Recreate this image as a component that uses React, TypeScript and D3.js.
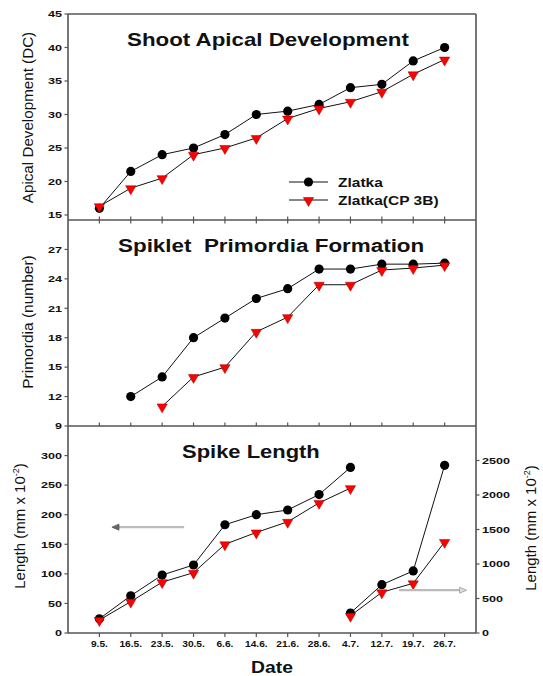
import * as d3 from "d3";

const dates = ["9.5.", "16.5.", "23.5.", "30.5.", "6.6.", "14.6.", "21.6.", "28.6.", "4.7.", "12.7.", "19.7.", "26.7."];

// panel 1 - shoot apical development (DC)
const apicalZlatka = [16, 21.5, 24, 25, 27, 30, 30.5, 31.5, 34, 34.5, 38, 40];
const apicalCP = [16.3, 19, 20.5, 24, 25, 26.5, 29.4, 30.9, 31.9, 33.4, 36, 38.2];

// panel 2 - spiklet primordia (number)
const primZlatka = [null, 12, 14, 18, 20, 22, 23, 25, 25, 25.5, 25.5, 25.6];
const primCP = [null, null, 11, 14, 15, 18.6, 20.1, 23.4, 23.4, 24.9, 25.1, 25.4];

// panel 3 - spike length, left axis (9.5. - 4.7.)
const spikeZlatka = [24, 63, 98, 115, 183, 200, 208, 234, 280];
const spikeCP = [22, 53, 86, 102, 150, 170, 188, 220, 245];
// panel 3 - spike length, right axis (4.7. - 26.7.)
const spikeZlatkaLate = [290, 700, 900, 2430];
const spikeCPLate = [250, 590, 720, 1320];

const apicalTicks = [15, 20, 25, 30, 35, 40, 45];
const primTicks = [9, 12, 15, 18, 21, 24, 27];
const spikeTicks = [0, 50, 100, 150, 200, 250, 300];
const spikeRightTicks = [0, 500, 1000, 1500, 2000, 2500];

const W = 543;
const H = 676;
const L = 68;
const R = 476;
const FONT = "Arial, 'Liberation Sans', sans-serif";
const frame = "#555";

const x = d3.scaleLinear().domain([-1, 12]).range([L, R]);
const y1 = d3.scaleLinear().domain([14.25, 45]).range([220, 14]);
const y2 = d3.scaleLinear().domain([9, 30]).range([426, 220]);
const y3 = d3.scaleLinear().domain([0, 350]).range([633, 426]);
const y3r = d3.scaleLinear().domain([0, 3000]).range([633, 426]);

const tri = d3.symbol().type(d3.symbolTriangle).size(46)();

type Pt = [number, number];

function pts(vals: (number | null)[], y: d3.ScaleLinear<number, number>, offset = 0): Pt[] {
  return vals
    .map((v, i) => (v == null ? null : ([x(i + offset), y(v)] as Pt)))
    .filter((p): p is Pt => p != null);
}

const line = d3.line<Pt>();

function Series({ data, kind }: { data: Pt[]; kind: "circle" | "tri" }) {
  return (
    <g>
      <path d={line(data) || ""} fill="none" stroke="#111" strokeWidth={1} />
      {data.map((p, i) =>
        kind === "circle" ? (
          <circle key={i} cx={p[0]} cy={p[1]} r={4.6} fill="#000" />
        ) : (
          <path key={i} d={tri || ""} transform={`translate(${p[0]},${p[1] + 0.5}) rotate(180)`} fill="#ff0000" stroke="#900" strokeWidth={0.5} />
        )
      )}
    </g>
  );
}

function Txt({ x: tx, y: ty, sx = 1, size, bold = true, anchor = "start", children }: any) {
  return (
    <text
      transform={`translate(${tx},${ty}) scale(${sx},1)`}
      fontSize={size}
      fontWeight={bold ? "bold" : "normal"}
      textAnchor={anchor}
      fontFamily={FONT}
      fill="#111"
      style={{ whiteSpace: "pre" }}
    >
      {children}
    </text>
  );
}

function YAxis({ y, ticks, side = "left" }: { y: d3.ScaleLinear<number, number>; ticks: number[]; side?: string }) {
  const ax = side === "left" ? L : R;
  const dir = side === "left" ? -1 : 1;
  return (
    <g>
      {ticks.map((t) => (
        <g key={t}>
          <line x1={ax} x2={ax + dir * 3.5} y1={y(t)} y2={y(t)} stroke={frame} strokeWidth={1.2} />
          <Txt x={ax + dir * 6} y={y(t) + 3.3} sx={1.4} size={9} anchor={side === "left" ? "end" : "start"}>
            {t}
          </Txt>
        </g>
      ))}
    </g>
  );
}

function XTicks({ y0, len }: { y0: number; len: number }) {
  return (
    <g>
      {dates.map((_, i) => (
        <line key={i} x1={x(i)} x2={x(i)} y1={y0} y2={y0 + len} stroke={frame} strokeWidth={1.2} />
      ))}
    </g>
  );
}

export default function App() {
  const leftArrowY = y3(179);
  const rightArrowY = y3r(620);
  return (
    <svg width={W} height={H} style={{ position: "absolute", left: 0, top: 0, background: "#fff" }}>
      <rect width={W} height={H} fill="#fff" />

      {/* frame */}
      <g stroke={frame} strokeWidth={1.6} fill="none">
        <line x1={L} x2={L} y1={14} y2={633} />
        <line x1={R} x2={R} y1={14} y2={633} />
        <line x1={L} x2={R} y1={14} y2={14} />
        <line x1={L} x2={R} y1={220} y2={220} />
        <line x1={L} x2={R} y1={426} y2={426} />
        <line x1={L} x2={R} y1={633} y2={633} />
      </g>

      <XTicks y0={220} len={-3.5} />
      <XTicks y0={220} len={3.5} />
      <XTicks y0={426} len={-3.5} />
      <XTicks y0={633} len={4} />

      <YAxis y={y1} ticks={apicalTicks} />
      <YAxis y={y2} ticks={primTicks} />
      <YAxis y={y3} ticks={spikeTicks} />
      <YAxis y={y3r} ticks={spikeRightTicks} side="right" />

      {dates.map((d, i) => (
        <Txt key={d} x={x(i)} y={647} sx={1.2} size={8.5} anchor="middle">
          {d}
        </Txt>
      ))}

      {/* titles */}
      <Txt x={127} y={45.5} sx={1.175} size={19}>Shoot Apical Development</Txt>
      <Txt x={118} y={252} sx={1.18} size={19}>{"Spiklet  Primordia Formation"}</Txt>
      <Txt x={182} y={458} sx={1.22} size={18}>Spike Length</Txt>

      {/* axis labels */}
      <text transform="translate(33,117.5) rotate(-90)" textAnchor="middle" fontSize={15.2} fontFamily={FONT} fill="#111">
        Apical Development (DC)
      </text>
      <text transform="translate(33,322) rotate(-90)" textAnchor="middle" fontSize={15.5} fontFamily={FONT} fill="#111">
        Primordia (number)
      </text>
      <text transform="translate(25,526) rotate(-90)" textAnchor="middle" fontSize={15} fontFamily={FONT} fill="#111">
        Length (mm x 10<tspan dy={-6} fontSize={9}>-2</tspan>
        <tspan dy={6}>)</tspan>
      </text>
      <text transform="translate(536,528) rotate(-90)" textAnchor="middle" fontSize={15} fontFamily={FONT} fill="#111">
        Length (mm x 10<tspan dy={-6} fontSize={9}>-2</tspan>
        <tspan dy={6}>)</tspan>
      </text>
      <Txt x={272} y={673} sx={1.17} size={16.5} anchor="middle">Date</Txt>

      {/* series */}
      <Series data={pts(apicalZlatka, y1)} kind="circle" />
      <Series data={pts(apicalCP, y1)} kind="tri" />
      <Series data={pts(primZlatka, y2)} kind="circle" />
      <Series data={pts(primCP, y2)} kind="tri" />
      <Series data={pts(spikeZlatka, y3)} kind="circle" />
      <Series data={pts(spikeCP, y3)} kind="tri" />
      <Series data={pts(spikeZlatkaLate, y3r, 8)} kind="circle" />
      <Series data={pts(spikeCPLate, y3r, 8)} kind="tri" />

      {/* legend */}
      <g>
        <line x1={289} x2={328} y1={182} y2={182} stroke="#111" strokeWidth={1} />
        <circle cx={308.5} cy={182} r={4.6} fill="#000" />
        <Txt x={338} y={187} sx={1.15} size={13.5}>Zlatka</Txt>
        <line x1={289} x2={328} y1={200} y2={200} stroke="#111" strokeWidth={1} />
        <path d={tri || ""} transform="translate(308.5,200.5) rotate(180)" fill="#ff0000" stroke="#900" strokeWidth={0.5} />
        <Txt x={338} y={205} sx={1.15} size={13.5}>Zlatka(CP 3B)</Txt>
      </g>

      {/* arrows pointing to the axis in use */}
      <g>
        <line x1={x(2.7)} x2={x(0.5)} y1={leftArrowY} y2={leftArrowY} stroke="#bbb" strokeWidth={2.2} />
        <path d={`M${x(0.4)},${leftArrowY} l7,-3 l0,6 z`} fill="#666" stroke="#555" strokeWidth={0.8} />
        <line x1={x(9.55)} x2={x(11.5)} y1={rightArrowY} y2={rightArrowY} stroke="#bbb" strokeWidth={2.2} />
        <path d={`M${x(11.7)},${rightArrowY} l-7,-3 l0,6 z`} fill="#ddd" stroke="#999" strokeWidth={0.8} />
      </g>
    </svg>
  );
}
